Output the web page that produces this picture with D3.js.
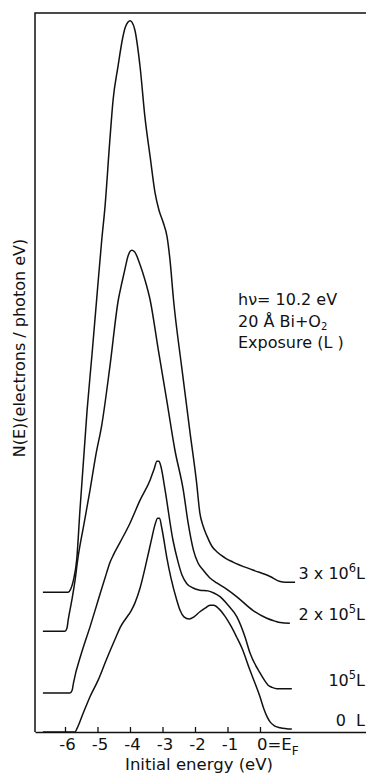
<!DOCTYPE html>
<html>
<head>
<meta charset="utf-8">
<script src="https://cdn.jsdelivr.net/npm/d3@7/dist/d3.min.js"></script>
<style>
  html, body { margin: 0; padding: 0; background: #fff; }
  svg { display: block; }
  text { font-family: "DejaVu Sans", sans-serif; fill: #111; }
</style>
</head>
<body>
<svg id="chart" width="366" height="774"></svg>
<script>
// Photoemission spectra N(E) of 20 Å Bi exposed to O2, hv = 10.2 eV.
// Each spectrum is stored as [initial energy (eV), N(E) in arbitrary units incl. vertical offset].

const tickValues = [-6, -5, -4, -3, -2, -1, 0];

const spectrum3e6 = [
  [-6.68, 19.4], [-5.91, 19.4], [-5.82, 19.9], [-5.74, 21.1], [-5.64, 23.9], [-5.54, 30.8],
  [-5.32, 44.7], [-5.17, 52.4], [-5.02, 60.4], [-4.87, 68.3], [-4.77, 72.9], [-4.62, 82.2],
  [-4.52, 87.8], [-4.37, 92.4], [-4.25, 95.8], [-4.15, 97.8], [-4.06, 98.6], [-4.00, 98.8],
  [-3.94, 98.6], [-3.85, 97.5], [-3.69, 92.4], [-3.54, 85.4], [-3.38, 79.9], [-3.23, 74.9],
  [-3.11, 72.5], [-2.98, 70.8], [-2.86, 68.8], [-2.77, 65.6], [-2.66, 60.0], [-2.41, 50.7],
  [-2.15, 41.5], [-1.95, 34.6], [-1.85, 30.4], [-1.75, 28.6], [-1.63, 27.2], [-1.48, 25.8],
  [-1.32, 25.0], [-1.08, 24.2], [-0.83, 23.6], [-0.22, 22.5], [0.31, 21.6], [0.62, 20.9],
  [0.77, 20.8], [1.08, 20.8]
];

const spectrum2e5 = [
  [-6.68, 14.0], [-6.00, 14.0], [-5.94, 14.4], [-5.90, 15.6], [-5.79, 18.3], [-5.69, 21.1],
  [-5.61, 23.9], [-5.42, 28.8], [-5.23, 33.6], [-5.05, 38.5], [-4.87, 42.6], [-4.62, 50.7],
  [-4.36, 60.0], [-4.25, 62.4], [-4.15, 64.4], [-4.06, 66.1], [-3.95, 66.9], [-3.86, 66.7],
  [-3.69, 64.9], [-3.54, 62.8], [-3.38, 60.0], [-3.13, 53.1], [-2.87, 46.1], [-2.62, 39.2],
  [-2.36, 33.6], [-2.21, 29.0], [-2.05, 25.3], [-1.91, 23.5], [-1.75, 22.5], [-1.54, 21.4],
  [-1.33, 20.7], [-1.05, 19.9], [-0.72, 18.8], [-0.22, 16.9], [0.21, 15.8], [0.46, 15.4],
  [0.62, 15.2], [0.92, 15.1]
];

const spectrum1e5 = [
  [-6.68, 5.4], [-5.85, 5.4], [-5.78, 5.8], [-5.74, 6.8], [-5.49, 11.0], [-5.23, 14.6],
  [-4.98, 18.3], [-4.72, 22.1], [-4.62, 23.5], [-4.51, 24.6], [-4.31, 26.3], [-4.00, 29.0],
  [-3.69, 32.2], [-3.38, 35.0], [-3.26, 36.5], [-3.17, 37.6], [-3.11, 37.6], [-3.05, 36.9],
  [-2.92, 33.6], [-2.68, 26.7], [-2.52, 23.6], [-2.40, 21.8], [-2.25, 20.6], [-2.06, 20.0],
  [-1.85, 19.7], [-1.60, 19.6], [-1.42, 19.3], [-1.23, 18.8], [-0.98, 17.6], [-0.71, 16.0],
  [-0.46, 13.2], [-0.31, 11.0], [0.00, 8.2], [0.15, 7.1], [0.25, 6.5], [0.37, 6.2],
  [0.52, 6.0], [0.98, 6.0]
];

const spectrum0 = [
  [-6.68, 0.0], [-5.69, 0.0], [-5.63, 0.5], [-5.45, 2.5], [-5.23, 4.9], [-4.98, 7.2],
  [-4.74, 9.9], [-4.43, 13.2], [-4.28, 14.7], [-4.12, 15.8], [-3.97, 16.8], [-3.85, 17.9],
  [-3.69, 20.0], [-3.48, 23.9], [-3.35, 26.5], [-3.23, 28.8], [-3.15, 29.7], [-3.09, 29.7],
  [-3.02, 28.3], [-2.87, 24.3], [-2.74, 21.4], [-2.56, 18.3], [-2.46, 16.9], [-2.34, 16.0],
  [-2.18, 15.7], [-2.03, 16.0], [-1.85, 16.7], [-1.69, 17.2], [-1.54, 17.6], [-1.42, 17.6],
  [-1.26, 17.1], [-1.08, 16.1], [-0.89, 14.7], [-0.72, 13.2], [-0.56, 11.7], [-0.31, 8.6],
  [0.00, 4.9], [0.12, 3.2], [0.22, 2.1], [0.31, 1.4], [0.43, 0.9], [0.62, 0.6], [0.98, 0.4]
];

// exposure labels: [base text, superscript, trailing text]
const exposureLabels = [
  ["3 x 10", "6", "L"],
  ["2 x 10", "5", "L"],
  ["10", "5", "L"],
  ["0  L", "", ""]
];
const spectra = [spectrum3e6, spectrum2e5, spectrum1e5, spectrum0];

const svg = d3.select("#chart");

const x = d3.scaleLinear().domain([-6.923, 3.262]).range([35, 366]);
const y = d3.scaleLinear().domain([0, 100]).range([732, 12]);

// frame: left and top edges
svg.append("path")
  .attr("d", `M${x.range()[1]},13 L${x.range()[0]},13 L${x.range()[0]},${y.range()[0]}`)
  .attr("fill", "none").attr("stroke", "#111").attr("stroke-width", 1.5);

// energy axis with inward ticks
const axis = d3.axisBottom(x)
  .tickValues(tickValues)
  .tickSize(-5)
  .tickSizeOuter(0)
  .tickPadding(6)
  .tickFormat(d => d === 0 ? "" : String(d));

const gx = svg.append("g").attr("transform", `translate(0,${y.range()[0]})`).call(axis);
gx.select(".domain").attr("stroke", "#111").attr("stroke-width", 1.5);
gx.selectAll(".tick line").attr("stroke", "#111").attr("stroke-width", 1.3);
gx.selectAll(".tick text").attr("font-size", 16.5).attr("fill", "#111")
  .attr("font-family", "DejaVu Sans, sans-serif").attr("dx", 2);

// Fermi level label
const ef = svg.append("text")
  .attr("x", x(0) - 3).attr("y", y(0) + 18)
  .attr("font-size", 16.5);
ef.append("tspan").text("0=E");
ef.append("tspan").attr("font-size", 12).attr("dy", 5).text("F");

// axis titles
svg.append("text")
  .attr("x", 199).attr("y", 770)
  .attr("text-anchor", "middle").attr("font-size", 16.5)
  .text("Initial energy (eV)");

svg.append("text")
  .attr("transform", "translate(25,348) rotate(-90)")
  .attr("text-anchor", "middle").attr("font-size", 16)
  .text("N(E)(electrons / photon eV)");

// spectra
const line = d3.line()
  .x(d => x(d[0]))
  .y(d => y(d[1]))
  .curve(d3.curveMonotoneX);

svg.append("g").selectAll("path")
  .data(spectra)
  .join("path")
  .attr("d", line)
  .attr("fill", "none")
  .attr("stroke", "#111")
  .attr("stroke-width", 1.5)
  .attr("stroke-linejoin", "round");

// exposure labels at the right end of each spectrum
spectra.forEach((s, i) => {
  const last = s[s.length - 1];
  const [base, sup, tail] = exposureLabels[i];
  const t = svg.append("text")
    .attr("x", 365).attr("y", y(last[1]) - 3)
    .attr("text-anchor", "end").attr("font-size", 16)
    .attr("xml:space", "preserve");
  t.append("tspan").text(base);
  if (sup) {
    t.append("tspan").attr("font-size", 11.5).attr("dy", -7).text(sup);
    t.append("tspan").attr("dy", 7).text(tail);
  }
});

// measurement conditions
const note = svg.append("g").attr("font-size", 16);
note.append("text").attr("x", 238).attr("y", 305).text("hν= 10.2 eV");
const n2 = note.append("text").attr("x", 238).attr("y", 327);
n2.append("tspan").text("20 Å Bi+O");
n2.append("tspan").attr("font-size", 10).attr("dy", 3).text("2");
note.append("text").attr("x", 238).attr("y", 348).attr("xml:space", "preserve").text("Exposure (L )");
</script>
</body>
</html>
